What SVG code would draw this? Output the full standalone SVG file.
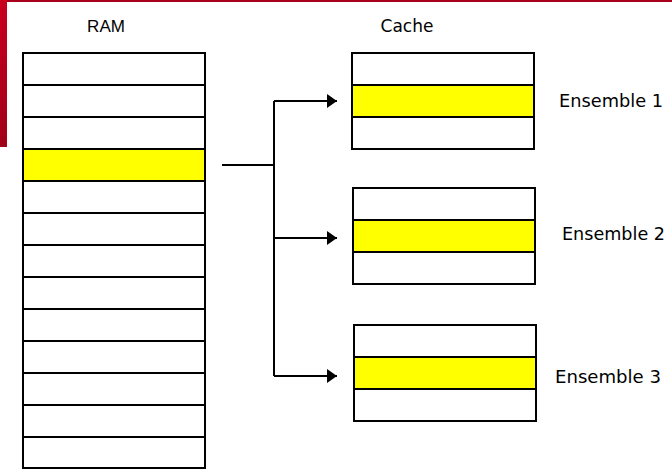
<svg xmlns="http://www.w3.org/2000/svg" width="672" height="469" viewBox="0 0 672 469">
<style>
.cell{fill:#fff;stroke:#000;stroke-width:2}
.hl{fill:#ffff00;stroke:#000;stroke-width:2}
.lbl{font-family:"DejaVu Sans",sans-serif;font-size:17px;fill:#000}
.conn{fill:none;stroke:#000;stroke-width:2}
</style>
<defs>
<linearGradient id="red" x1="0" y1="0" x2="0" y2="1">
<stop offset="0" stop-color="#c8001e"/>
<stop offset="1" stop-color="#a00018"/>
</linearGradient>
<marker id="arr" viewBox="0 0 10 14" refX="10" refY="7" markerWidth="10" markerHeight="14" markerUnits="userSpaceOnUse" orient="auto">
<path d="M0,0 L10,7 L0,14 Z" fill="#000"/>
</marker>
</defs>
<rect width="672" height="469" fill="#fff"/>
<rect x="0" y="0" width="672" height="2" fill="#a8001a"/>
<rect x="0" y="0" width="7" height="147" fill="url(#red)"/>

<g id="ram">
<text class="lbl" x="106" y="32" text-anchor="middle" style="font-family:'Liberation Sans',sans-serif;font-size:17px">RAM</text>
<rect class="cell" x="23" y="53" width="182" height="32"/>
<rect class="cell" x="23" y="85" width="182" height="32"/>
<rect class="cell" x="23" y="117" width="182" height="32"/>
<rect class="hl" x="23" y="149" width="182" height="32"/>
<rect class="cell" x="23" y="181" width="182" height="32"/>
<rect class="cell" x="23" y="213" width="182" height="32"/>
<rect class="cell" x="23" y="245" width="182" height="32"/>
<rect class="cell" x="23" y="277" width="182" height="32"/>
<rect class="cell" x="23" y="309" width="182" height="32"/>
<rect class="cell" x="23" y="341" width="182" height="32"/>
<rect class="cell" x="23" y="373" width="182" height="32"/>
<rect class="cell" x="23" y="405" width="182" height="32"/>
<rect class="cell" x="23" y="437" width="182" height="31"/>
</g>

<text class="lbl" x="407" y="32" text-anchor="middle">Cache</text>

<g id="ensemble1">
<rect class="cell" x="352" y="53" width="182" height="32"/>
<rect class="hl" x="352" y="85" width="182" height="32"/>
<rect class="cell" x="352" y="117" width="182" height="32"/>
<text class="lbl" x="559" y="107" textLength="104" lengthAdjust="spacingAndGlyphs">Ensemble 1</text>
</g>

<g id="ensemble2">
<rect class="cell" x="353" y="188" width="182" height="32"/>
<rect class="hl" x="353" y="220" width="182" height="32"/>
<rect class="cell" x="353" y="252" width="182" height="32"/>
<text class="lbl" x="562" y="240" textLength="103" lengthAdjust="spacingAndGlyphs">Ensemble 2</text>
</g>

<g id="ensemble3">
<rect class="cell" x="354" y="325" width="182" height="32"/>
<rect class="hl" x="354" y="357" width="182" height="32"/>
<rect class="cell" x="354" y="389" width="182" height="32"/>
<text class="lbl" x="555" y="383" textLength="106" lengthAdjust="spacingAndGlyphs">Ensemble 3</text>
</g>

<g id="connectors">
<path class="conn" d="M222,165 H274"/>
<path class="conn" d="M274,101 V376"/>
<path class="conn" d="M274,101 H337" marker-end="url(#arr)"/>
<path class="conn" d="M274,238 H337" marker-end="url(#arr)"/>
<path class="conn" d="M274,376 H337" marker-end="url(#arr)"/>
</g>
</svg>
